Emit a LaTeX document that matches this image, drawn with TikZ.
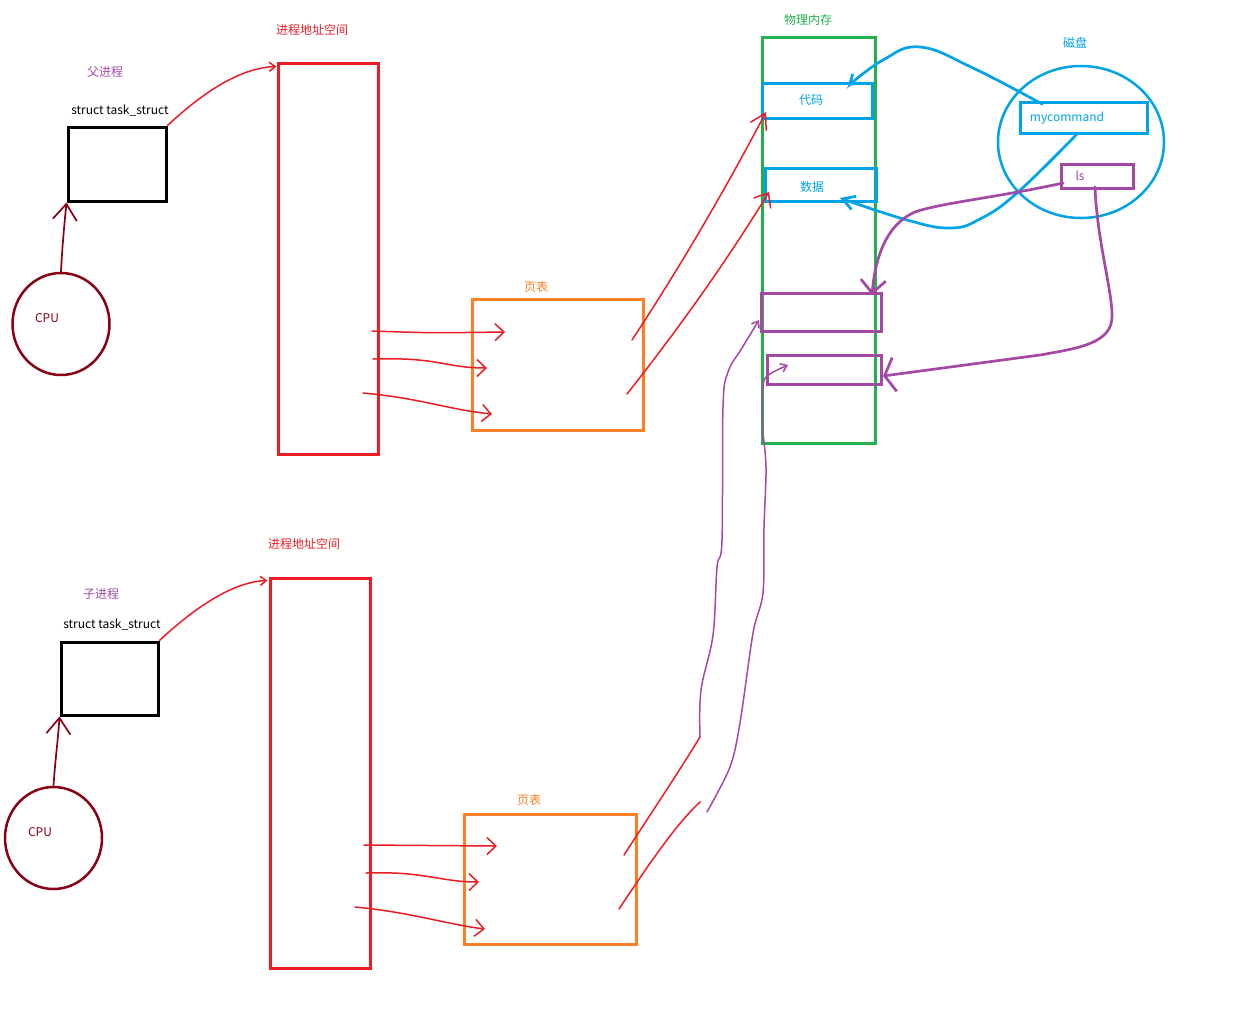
\documentclass[tikz,border=0pt]{standalone}
\usepackage{fontspec}
\newfontfamily\cjk{Noto Sans CJK SC}
\usetikzlibrary{arrows.meta,calc,shapes.geometric}
\definecolor{pred}{HTML}{ED1C24}
\definecolor{dred}{HTML}{880015}
\definecolor{porange}{HTML}{FF7F27}
\definecolor{pgreen}{HTML}{22B14C}
\definecolor{pblue}{HTML}{00A2E8}
\definecolor{ppurple}{HTML}{A349A4}
\begin{document}
\begin{tikzpicture}[x=1pt,y=-1pt,
  lbl/.style={font=\cjk\fontsize{12}{14}\selectfont, inner sep=0pt},
  box/.style={draw, rectangle, inner sep=0pt, line width=3pt},
  ell/.style={draw, ellipse, inner sep=0pt, line width=2.5pt},
  redline/.style={draw=pred, line width=1.5pt, line cap=round},
  dredline/.style={draw=dred, line width=1.7pt, line cap=round},
  blueline/.style={draw=pblue, line width=2.7pt, line cap=round},
  purpleline/.style={draw=ppurple, line width=2.7pt, line cap=round},
  purplethin/.style={draw=ppurple, line width=1.5pt, line cap=round},
  bigbarb/.style={-{Straight Barb[length=16pt,width=24pt]}},
  midbarb/.style={-{Straight Barb[length=9pt,width=17pt]}},
  smallbarb/.style={-{Straight Barb[length=6pt,width=9pt]}}
]
\useasboundingbox (0,0) rectangle (1239,1034);

% ---------- parent process ----------
\node[lbl, text=ppurple] (plabel) at (105,72) {父进程};
\node[lbl] (pts) at (120,111) {struct task\_struct};
\node[box, draw=black, minimum width=98pt, minimum height=74pt] (ptask) at (117,164) {};
\node[ell, draw=dred, minimum width=97pt, minimum height=102pt] (pcpu) at (61,324) {};
\node[lbl, text=dred] (pcput) at (47,318) {CPU};
\node[lbl, text=pred] (pasl) at (312,30) {进程地址空间};
\node[box, draw=pred, minimum width=100pt, minimum height=391pt] (paddr) at (328,258.5) {};
\node[lbl, text=porange] (pptl) at (536,287) {页表};
\node[box, draw=porange, minimum width=171pt, minimum height=131pt] (ppt) at (557.5,364.5) {};

% ---------- physical memory ----------
\node[lbl, text=pgreen] (meml) at (808,20) {物理内存};
\node[box, draw=pgreen, minimum width=113pt, minimum height=406pt] (mem) at (818.5,240) {};
\node[box, draw=pblue, minimum width=110pt, minimum height=35pt] (code) at (817,100.5) {};
\node[lbl, text=pblue] (codet) at (811,100) {代码};
\node[box, draw=pblue, minimum width=111pt, minimum height=33pt] (data) at (820.5,184.5) {};
\node[lbl, text=pblue] (datat) at (812,187) {数据};
\node[box, draw=ppurple, minimum width=120pt, minimum height=38pt] (pb1) at (821,312) {};
\node[box, draw=ppurple, minimum width=114pt, minimum height=29pt] (pb2) at (824,369.5) {};

% ---------- disk ----------
\node[lbl, text=pblue] (diskl) at (1075,43) {磁盘};
\node[ell, draw=pblue, minimum width=166pt, minimum height=152pt] (disk) at (1081,142) {};
\node[box, draw=pblue, minimum width=127pt, minimum height=31pt] (mycmd) at (1083.5,117.5) {};
\node[lbl, text=pblue] (mycmdt) at (1067,118) {mycommand};
\node[box, draw=ppurple, minimum width=72pt, minimum height=24pt] (ls) at (1097,176) {};
\node[lbl, text=ppurple] (lst) at (1080,176) {ls};

% ---------- child process ----------
\node[lbl, text=ppurple] (clabel) at (101,594) {子进程};
\node[lbl] (cts) at (112,625) {struct task\_struct};
\node[box, draw=black, minimum width=97pt, minimum height=73pt] (ctask) at (109.5,678.5) {};
\node[ell, draw=dred, minimum width=97pt, minimum height=102pt] (ccpu) at (53.5,838) {};
\node[lbl, text=dred] (ccput) at (40,832) {CPU};
\node[lbl, text=pred] (casl) at (304,544) {进程地址空间};
\node[box, draw=pred, minimum width=100pt, minimum height=390pt] (caddr) at (320,773) {};
\node[lbl, text=porange] (cptl) at (529,800) {页表};
\node[box, draw=porange, minimum width=172pt, minimum height=130pt] (cpt) at (550,879) {};

% ---------- named free ends ----------
\coordinate (paddrIn) at ($(paddr.north west)+(0,5)$);
\coordinate (caddrIn) at ($(caddr.north west)+(-1,4)$);
\coordinate (pa1s) at (372,331); \coordinate (pa1e) at (505,332);
\coordinate (pa2s) at (373,359); \coordinate (pa2e) at (487,368);
\coordinate (pa3s) at (363,393); \coordinate (pa3e) at (492,414);
\coordinate (ca1s) at (364,845); \coordinate (ca1e) at (497,846);
\coordinate (ca2s) at (366,873); \coordinate (ca2e) at (479,882);
\coordinate (ca3s) at (355,907); \coordinate (ca3e) at (485,929);
\coordinate (pm1s) at (632,340); \coordinate (pm1e) at (766,112);
\coordinate (pm2s) at (627,394); \coordinate (pm2e) at (769,192);
\coordinate (cm1s) at (624,855); \coordinate (cm1e) at (700,737);
\coordinate (cm2s) at (619,909); \coordinate (cm2e) at (700,802);
\coordinate (pw2s) at (707,812);
\coordinate (pw1e) at (759,320);
\coordinate (pw2e) at (788,365);
\coordinate (bc1s) at (1042,104); \coordinate (bc1e) at (848,86);
\coordinate (bc2s) at (1077,134); \coordinate (bc2e) at (840,198);
\coordinate (pl1s) at (1063,183); \coordinate (pl1e) at (872,295);
\coordinate (pl2s) at (1095,187); \coordinate (pl2e) at (883,376);

% ---------- parent connectors ----------
\draw[dredline, bigbarb] (pcpu.north) .. controls (62,250) and (64,228) .. (ptask.south west);
\draw[redline, smallbarb] (ptask.north east) .. controls (195,100) and (235,68) .. (paddrIn);
\draw[redline, midbarb] (pa1s) .. controls (430,333) .. (pa1e);
\draw[redline, midbarb] (pa2s) .. controls (440,357) and (445,368) .. (pa2e);
\draw[redline, midbarb] (pa3s) .. controls (420,398) and (450,410) .. (pa3e);
\draw[redline, -{Straight Barb[length=15pt,width=18pt]}] (pm1s) .. controls (682,264) and (726,188) .. (pm1e);
\draw[redline, -{Straight Barb[length=12pt,width=20pt]}] (pm2s) .. controls (680,327) and (728,259) .. (pm2e);

% ---------- disk connectors ----------
\draw[blueline, -{Straight Barb[length=9pt,width=12pt]}] plot[smooth, tension=0.7] coordinates {(bc1s) (973,68) (920,47) (883,60) (bc1e)};
\draw[blueline, -{Straight Barb[length=12pt,width=14pt]}] plot[smooth, tension=0.7] coordinates {(bc2s) (1017,193) (980,219) (950,228) (907,220) (bc2e)};
\draw[purpleline, -{Straight Barb[length=13pt,width=25pt]}] (pl1s) .. controls (1000,197) and (940,203) .. (915,212) .. controls (885,225) and (875,260) .. (pl1e);
\draw[purpleline, -{Straight Barb[length=10pt,width=34pt]}] (pl2s) .. controls (1097,240) and (1112,290) .. (1112,315) .. controls (1113,343) and (1080,348) .. (1040,355) -- (pl2e);

% ---------- child connectors ----------
\draw[dredline, bigbarb] (ccpu.north) .. controls (55,762) and (58,740) .. (ctask.south west);
\draw[redline, smallbarb] (ctask.north east) .. controls (190,612) and (230,582) .. (caddrIn);
\draw[redline, midbarb] (ca1s) .. controls (430,846) .. (ca1e);
\draw[redline, midbarb] (ca2s) .. controls (425,871) and (440,882) .. (ca2e);
\draw[redline, midbarb] (ca3s) .. controls (410,912) and (450,925) .. (ca3e);
\draw[redline] (cm1s) .. controls (650,815) and (680,770) .. (cm1e);
\draw[redline] (cm2s) .. controls (645,870) and (675,825) .. (cm2e);
\draw[purplethin, smallbarb] plot[smooth, tension=0.6] coordinates {(cm1e) (701,690) (713,635) (717,567) (722,540) (723,407) (728,372) (742,348) (pw1e)};
\draw[purplethin, smallbarb] plot[smooth, tension=0.5] coordinates {(pw2s) (730,767) (740,723) (753,633) (763,593) (764,527) (766,467) (762,420) (763,384) (770,374) (pw2e)};
\end{tikzpicture}
\end{document}
